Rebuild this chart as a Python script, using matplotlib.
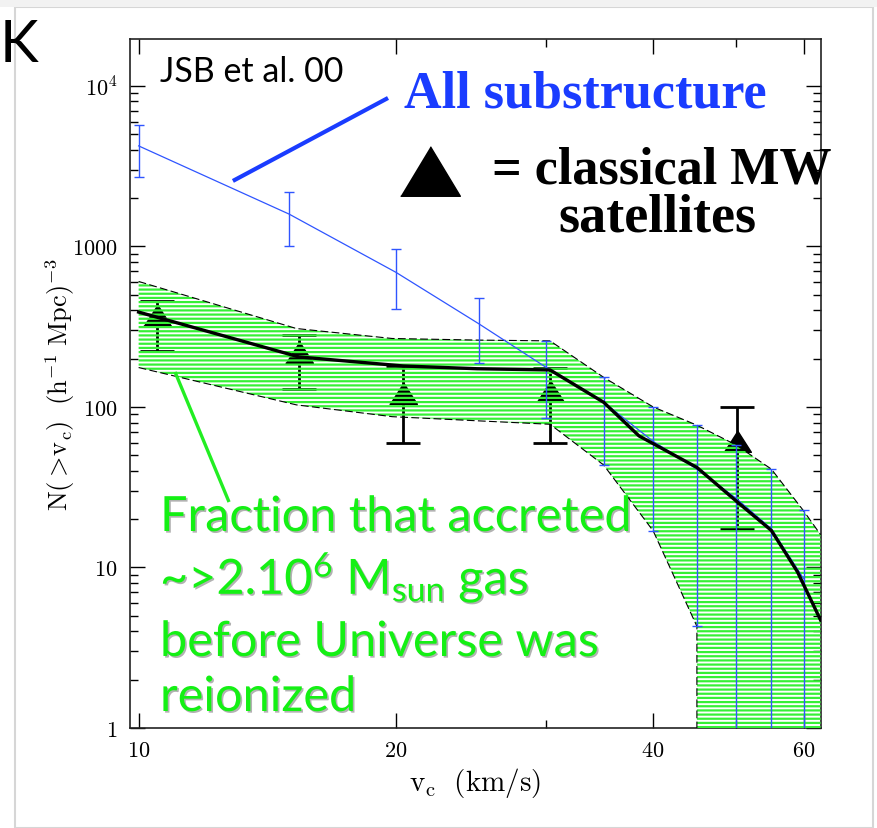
import numpy as np
import matplotlib
matplotlib.use("Agg")
import matplotlib.pyplot as plt
import matplotlib.patheffects as pe
from matplotlib.ticker import FixedLocator, FixedFormatter, NullFormatter, LogLocator
from matplotlib.patches import Rectangle

plt.rcParams['mathtext.fontset'] = 'cm'
plt.rcParams['mathtext.rm'] = 'Lato'
plt.rcParams['mathtext.it'] = 'Lato'
plt.rcParams['hatch.linewidth'] = 1.6

# All substructure (blue), N(>v_c)
v_all = [10, 15, 20, 25, 30, 35, 40, 45, 50, 55, 60]
n_all = [4230, 1590, 690, 330, 176, 107, 61, 41, 27, 17.4, 8.5]
n_all_hi = [5710, 2190, 970, 474, 256, 153, 100, 77, 58, 41, 22.8]
n_all_lo = [2710, 1000, 405, 189, 85, 43.5, 16.9, 4.3, 0.5, 0.5, 0.5]

# green band: fraction that accreted gas before reionization
v_band_hi = [10, 15.3, 19.8, 24.9, 30.3, 35, 40, 45, 50, 55, 60, 62.8]
band_hi = [605, 308, 267, 261, 258, 153, 100, 77, 58, 41, 22.5, 16]
v_band_lo = [10, 15.3, 19.8, 24.9, 30.3, 35, 40, 45, 45, 62.8]
band_lo = [176, 103, 87, 82, 78, 43.5, 16.9, 4.3, 0.8, 0.8]

# mean curve (black)
v_mean = [10, 15.4, 20.4, 24.9, 30.3, 35, 38.5, 45, 50, 55, 59, 62.8]
n_mean = [390, 205, 180, 173, 170, 107, 66, 42, 26, 17, 9.4, 4.7]

# classical MW satellites
v_sat = [10.5, 15.4, 20.4, 30.3, 50.2]
n_sat = [374, 219, 122, 125, 61]
sat_hi = [454, 279, 179, 174, 100]
sat_lo = [222, 130, 60, 60, 17.4]

x_ticks = [10, 20, 40, 60]
x_minor = [30, 50]
y_ticks = [1, 10, 100, 1000, 10000]
y_ticklabels = ['$1$', '$10$', '$100$', '$1000$', '$10^4$']

W, H = 878, 829
fig = plt.figure(figsize=(W / 100, H / 100), dpi=100)
ax = fig.add_axes([130 / W, 1 - 729 / H, 690.6 / W, 689 / H])
ax.set_xscale('log')
ax.set_yscale('log')
ax.set_xlim(9.77, 62.8)
ax.set_ylim(1, 1.96e4)

blue = '#2f55ff'
tri = [(-1, -0.78), (1, -0.78), (0, 0.78)]

# satellites under the hatching
yerr_sat = [np.array(n_sat) - np.array(sat_lo), np.array(sat_hi) - np.array(n_sat)]
ax.errorbar(v_sat, n_sat, yerr=yerr_sat, fmt='none', ecolor='black',
            elinewidth=2.0, capsize=12, capthick=2.0, zorder=2)
ax.plot(v_sat, n_sat, ls='none', marker=tri, markersize=20, color='black', zorder=2)

# hatched band
v_poly = v_band_hi + v_band_lo[::-1]
n_poly = band_hi + band_lo[::-1]
ax.fill(v_poly, n_poly, facecolor='none', edgecolor='#35f035', linewidth=0,
        hatch='----', zorder=3)
ax.plot(v_band_hi, band_hi, color='black', lw=0.8, ls=(0, (7, 3)), zorder=3.5)
ax.plot(v_band_lo, band_lo, color='black', lw=0.8, ls=(0, (7, 3)), zorder=3.5)

# all substructure
yerr_all = [np.array(n_all) - np.array(n_all_lo), np.array(n_all_hi) - np.array(n_all)]
ax.errorbar(v_all, n_all, yerr=yerr_all, color=blue, lw=0.9, elinewidth=1.0,
            capsize=3.5, capthick=1.0, zorder=4)

# mean curve
ax.plot(v_mean, n_mean, color='black', lw=2.4, zorder=5)

# axes styling
ax.xaxis.set_major_locator(FixedLocator(x_ticks))
ax.xaxis.set_major_formatter(FixedFormatter(['$%d$' % t for t in x_ticks]))
ax.xaxis.set_minor_locator(FixedLocator(x_minor))
ax.xaxis.set_minor_formatter(NullFormatter())
ax.yaxis.set_major_locator(FixedLocator(y_ticks))
ax.yaxis.set_major_formatter(FixedFormatter(y_ticklabels))
ax.yaxis.set_minor_locator(LogLocator(base=10, subs=np.arange(2, 10)))
ax.yaxis.set_minor_formatter(NullFormatter())
ax.tick_params(which='both', direction='in', top=True, right=True, width=1.0,
               labelsize=16, pad=9)
ax.tick_params(which='major', length=11)
ax.tick_params(which='minor', length=5.5)
for s in ax.spines.values():
    s.set_linewidth(1.2)
    s.set_color('#222222')

ax.set_ylabel(r'$\mathrm{N(>\!v_c)\ \ (h^{-1}\ Mpc)^{-3}}$', fontsize=19)
ax.yaxis.set_label_coords(-0.077, 0.5)
ax.set_xlabel(r'$\mathrm{v_c\ \ (km/s)}$', fontsize=21, va='top')
ax.xaxis.set_label_coords(0.5, -0.053)

# annotations
ax.plot([0.149, 0.3736], [0.794, 0.9144], transform=ax.transAxes, color='#1a3cff',
        lw=3, solid_capstyle='butt', zorder=6)
ax.plot([0.0652, 0.1434], [0.5167, 0.328], transform=ax.transAxes, color='#22ee22',
        lw=2.4, solid_capstyle='butt', zorder=6)
ax.plot([(430 - 130) / 690.6], [(729 - 172) / 689], transform=ax.transAxes,
        marker=[(-1, -0.83), (1, -0.83), (0, 0.83)], markersize=43, color='black',
        clip_on=False, zorder=6)


def fx(px):
    return px / W


def fy(py):
    return 1 - py / H


fig.text(fx(160), fy(82), 'JSB et al. 00', fontsize=24.5, family='Lato',
         va='baseline', ha='left')
fig.text(fx(404), fy(108), 'All substructure', fontsize=37.5, family='Liberation Serif',
         weight='bold', color='#1a3cff', va='baseline', ha='left')
fig.text(fx(492), fy(183), '= classical MW', fontsize=37.5, family='Liberation Serif',
         weight='bold', color='black', va='baseline', ha='left', zorder=10)
fig.text(fx(558), fy(232), 'satellites', fontsize=39, family='Liberation Serif',
         weight='bold', color='black', va='baseline', ha='left')
fig.text(fx(0), fy(62), 'K', fontsize=42, family='Lato', va='baseline', ha='left')

green = '#14f014'
shadow = [pe.withSimplePatchShadow(offset=(1.2, -1.2), shadow_rgbFace='black', alpha=0.3)]
green_lines = ['Fraction that accreted',
               r'~>2.10$^{6}$ M$_{\mathrm{sun}}$ gas',
               'before Universe was',
               'reionized']
baselines = [532, 595, 657, 712]
for txt, b in zip(green_lines, baselines):
    t = fig.text(fx(160), fy(b), txt, fontsize=35, family='Lato', color=green,
                 va='baseline', ha='left', path_effects=shadow, zorder=10)
    t.set_math_fontfamily('custom')

# slide frame
fig.patches.append(Rectangle((fx(15), 0), fx(873) - fx(15), fy(8), transform=fig.transFigure,
                             fill=False, edgecolor='#d6d6d6', lw=1.5, zorder=0))
fig.patches.append(Rectangle((0, fy(8)), 1, 8 / H, transform=fig.transFigure,
                             facecolor='#f2f2f2', edgecolor='none', zorder=0))

fig.savefig('out.png', dpi=100)
